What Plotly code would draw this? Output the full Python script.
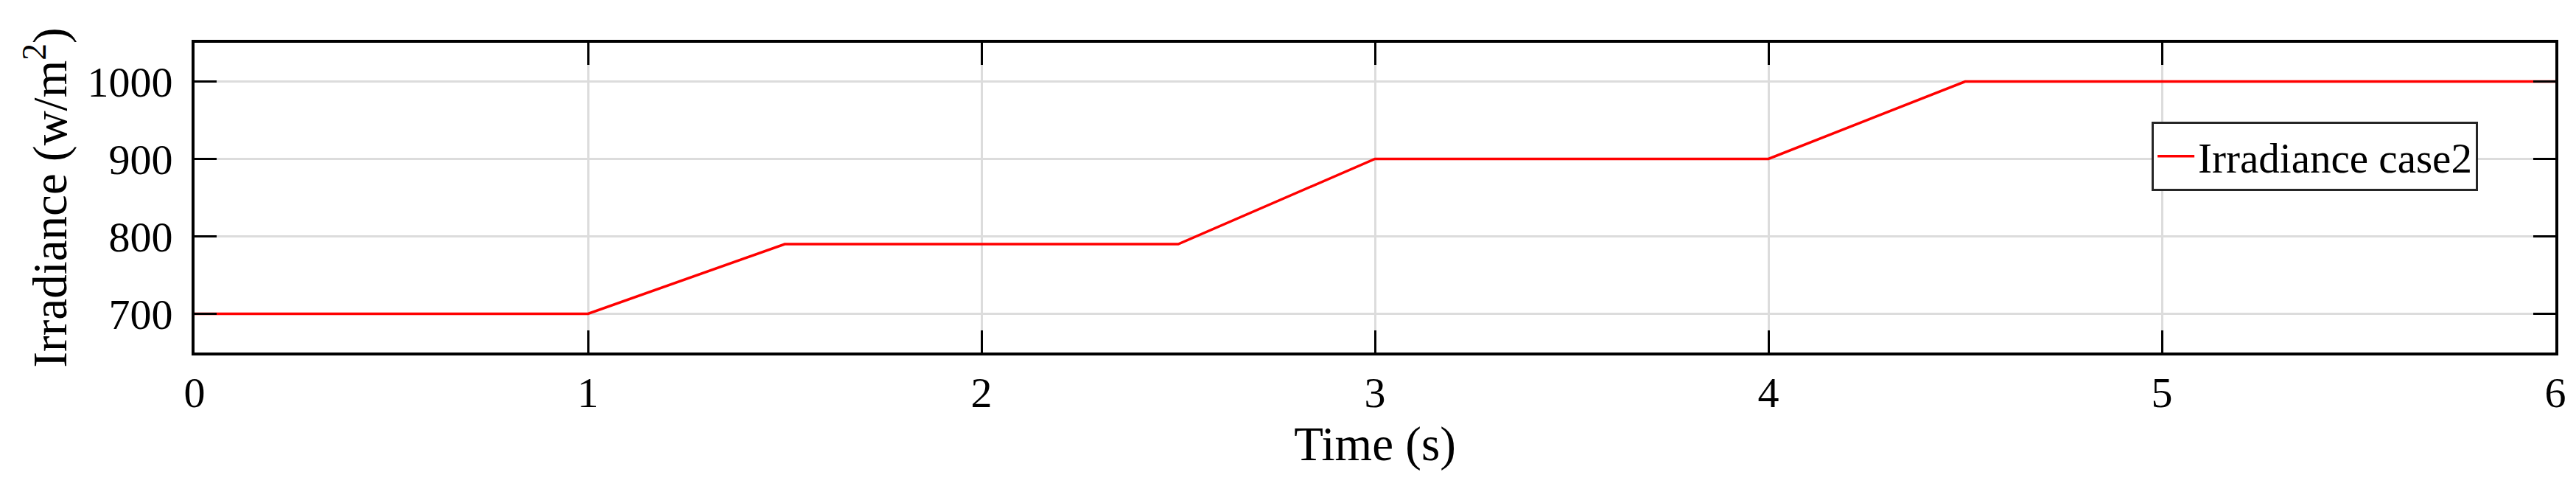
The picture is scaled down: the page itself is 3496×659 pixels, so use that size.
import plotly.graph_objects as go

# Irradiance profile (case 2)
time_s = [0, 1, 1.5, 2.5, 3, 4, 4.5, 6]
irradiance = [700, 700, 790, 790, 900, 900, 1000, 1000]

x_ticks = [0, 1, 2, 3, 4, 5, 6]
y_ticks = [700, 800, 900, 1000]

FONT = "Liberation Serif, Times New Roman, serif"

fig = go.Figure(
    data=go.Scatter(
        x=time_s,
        y=irradiance,
        mode="lines",
        name="Irradiance case2",
        line=dict(color="#ff0000", width=3.5),
    )
)

axis_common = dict(
    showline=True,
    linecolor="black",
    linewidth=4,
    mirror="ticks",
    ticks="inside",
    ticklen=30,
    tickwidth=3,
    tickcolor="black",
    showgrid=True,
    gridcolor="#dcdcdc",
    gridwidth=3,
    zeroline=False,
    tickfont=dict(family=FONT, size=58, color="black"),
)

fig.update_layout(
    width=3496,
    height=659,
    margin=dict(l=256, r=36, t=50, b=189),
    paper_bgcolor="white",
    plot_bgcolor="white",
    font=dict(family=FONT, color="black"),
    xaxis=dict(
        range=[0, 6],
        tickvals=x_ticks,
        ticklabelstandoff=0,
        title=dict(text="Time (s)", font=dict(family=FONT, size=65), standoff=16),
        **axis_common,
    ),
    yaxis=dict(
        range=[650, 1050],
        tickvals=y_ticks,
        ticklabelstandoff=14,
        title=dict(
            text="Irradiance (w/m<sup>2</sup>)",
            font=dict(family=FONT, size=65),
            standoff=8,
        ),
        **axis_common,
    ),
    showlegend=True,
    legend=dict(
        x=0.829,
        y=0.745,
        xanchor="left",
        yanchor="top",
        bgcolor="white",
        bordercolor="#262626",
        borderwidth=3,
        itemwidth=50,
        font=dict(family=FONT, size=57, color="black"),
    ),
)

fig.write_html("out.html")
